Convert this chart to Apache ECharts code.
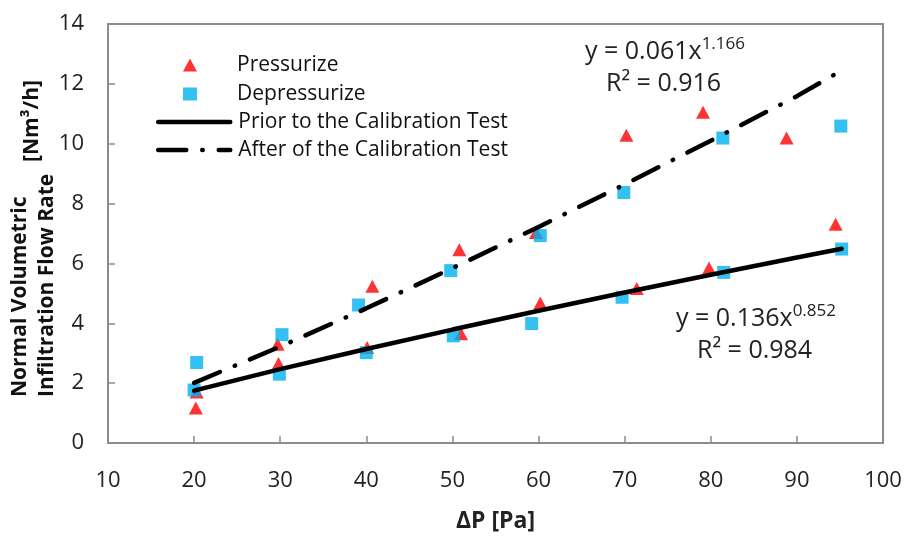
<!DOCTYPE html>
<html>
<head>
<meta charset="utf-8">
<script src="https://cdn.jsdelivr.net/npm/echarts@6/dist/echarts.min.js"></script>
<style>html,body{margin:0;padding:0;background:#fff}#c{width:909px;height:538px}</style>
</head>
<body>
<div id="c"></div>
<script>
// ---- data ----
const xTicks = [10, 20, 30, 40, 50, 60, 70, 80, 90, 100];
const yTicks = [0, 2, 4, 6, 8, 10, 12, 14];

const pressX = [20.2, 20.3, 29.7, 29.8, 40.1, 40.7, 51.0, 50.8, 59.7, 60.2, 70.2, 71.4, 79.1, 79.8, 88.8, 94.5];
const pressY = [1.17, 1.70, 3.30, 2.66, 3.19, 5.24, 3.65, 6.46, 7.03, 4.68, 10.28, 5.16, 11.05, 5.85, 10.19, 7.31];

const depX = [20.0, 20.3, 29.9, 30.2, 39.1, 40.0, 49.8, 50.1, 59.2, 60.2, 69.9, 69.7, 81.4, 81.5, 95.1, 95.2];
const depY = [1.77, 2.69, 2.30, 3.62, 4.61, 3.02, 5.76, 3.58, 3.99, 6.93, 8.37, 4.87, 10.19, 5.70, 10.59, 6.48];

const priorX = [20, 30, 40, 50, 60, 70, 80, 90, 95.2];
const priorY = [1.75, 2.47, 3.14, 3.79, 4.42, 5.03, 5.62, 6.20, 6.49];

const afterX = [20, 30, 40, 50, 60, 70, 80, 90, 94.3];
const afterY = [2.01, 3.22, 4.50, 5.84, 7.22, 8.64, 10.10, 11.59, 12.30];

const names = ['Pressurize', 'Depressurize', 'Prior to the Calibration Test', 'After of the Calibration Test'];
const eqAfter = ['y = 0.061x', '1.166', 'R² = 0.916'];
const eqPrior = ['y = 0.136x', '0.852', 'R² = 0.984'];

const zip = (a, b) => a.map((v, i) => [v, b[i]]);
const FONT = '"Open Sans", "Noto Sans", sans-serif';

const chart = echarts.init(document.getElementById('c'), null, {renderer: 'canvas'});
chart.setOption({
  animation: false,
  backgroundColor: '#fff',
  grid: {left: 108, right: 26, top: 24, bottom: 92, show: true, borderColor: '#8c8c8c', borderWidth: 2, backgroundColor: 'transparent'},
  xAxis: {
    type: 'value', min: 10, max: 100, interval: 10,
    axisLine: {show: true, lineStyle: {color: '#8c8c8c', width: 2}},
    axisTick: {show: true, inside: true, length: 7, lineStyle: {color: '#8c8c8c', width: 1.5}},
    splitLine: {show: false},
    axisLabel: {margin: 27, fontSize: 22, color: '#222', fontFamily: FONT},
    name: 'ΔP [Pa]', nameLocation: 'middle', nameGap: 67,
    nameTextStyle: {fontSize: 23, fontWeight: 'bold', color: '#222', fontFamily: FONT}
  },
  yAxis: {
    type: 'value', min: 0, max: 14, interval: 2,
    axisLine: {show: true, lineStyle: {color: '#8c8c8c', width: 2}},
    axisTick: {show: true, inside: true, length: 7, lineStyle: {color: '#8c8c8c', width: 1.5}},
    splitLine: {show: false},
    axisLabel: {margin: 24, fontSize: 22, color: '#222', fontFamily: FONT}
  },
  legend: [
    {
      data: [names[0], names[1]], orient: 'vertical', left: 183, top: 52, padding: 0,
      itemWidth: 14, itemHeight: 13, itemGap: 3, selectedMode: false,
      textStyle: {fontSize: 21, color: '#111', fontFamily: FONT, padding: [0, 0, 0, 35], lineHeight: 26}
    },
    {
      data: [names[2], names[3]], orient: 'vertical', left: 156, top: 109, padding: 0,
      itemWidth: 72, itemHeight: 14, itemGap: 2, selectedMode: false,
      itemStyle: {color: 'transparent', borderWidth: 0},
      lineStyle: {width: 4.5, color: '#000', cap: 'round'},
      textStyle: {fontSize: 21, color: '#111', fontFamily: FONT, padding: [0, 0, 0, 3], lineHeight: 26}
    }
  ],
  series: [
    {
      name: names[0], type: 'scatter', data: zip(pressX, pressY),
      symbol: 'triangle', symbolSize: [14, 13], itemStyle: {color: '#ff0000'}, z: 2
    },
    {
      name: names[1], type: 'scatter', data: zip(depX, depY),
      symbol: 'rect', symbolSize: 13, itemStyle: {color: '#00b0f0'}, z: 3
    },
    {
      name: names[2], type: 'line', data: zip(priorX, priorY), showSymbol: false, symbol: 'none',
      lineStyle: {color: '#000', width: 4.5, cap: 'round'}, itemStyle: {color: '#000'}, z: 5
    },
    {
      name: names[3], type: 'line', data: zip(afterX, afterY), showSymbol: false, symbol: 'none',
      lineStyle: {color: '#000', width: 4.5, cap: 'round', type: [28, 16, 0.5, 16]}, itemStyle: {color: '#000'}, z: 5
    }
  ],
  graphic: [
    {
      type: 'text', left: 585, top: 36, z: 10,
      style: {
        text: '{a|' + eqAfter[0] + '}{s|' + eqAfter[1] + '}',
        rich: {a: {fontSize: 25, fontFamily: FONT, fill: '#222', lineHeight: 32}, s: {fontSize: 17, fontFamily: FONT, fill: '#222', lineHeight: 32, verticalAlign: 'top', padding: [0,0,11,0]}}
      }
    },
    {
      type: 'text', left: 606, top: 71, z: 10,
      style: {text: eqAfter[2], font: '25px ' + FONT, fill: '#222'}
    },
    {
      type: 'text', left: 676, top: 303, z: 10,
      style: {
        text: '{a|' + eqPrior[0] + '}{s|' + eqPrior[1] + '}',
        rich: {a: {fontSize: 25, fontFamily: FONT, fill: '#222', lineHeight: 32}, s: {fontSize: 17, fontFamily: FONT, fill: '#222', lineHeight: 32, verticalAlign: 'top', padding: [0,0,11,0]}}
      }
    },
    {
      type: 'text', left: 697, top: 338, z: 10,
      style: {text: eqPrior[2], font: '25px ' + FONT, fill: '#222'}
    },
    {
      type: 'text', x: 20, y: 397, rotation: Math.PI / 2, z: 10,
      style: {text: 'Normal Volumetric', font: 'bold 21px ' + FONT, fill: '#111', align: 'left', verticalAlign: 'middle', textAlign: 'left', textVerticalAlign: 'middle'}
    },
    {
      type: 'text', x: 47, y: 397, rotation: Math.PI / 2, z: 10,
      style: {text: 'Infiltration Flow Rate', font: 'bold 21px ' + FONT, fill: '#111', align: 'left', verticalAlign: 'middle', textAlign: 'left', textVerticalAlign: 'middle'}
    },
    {
      type: 'text', x: 32, y: 121, rotation: Math.PI / 2, z: 10,
      style: {text: '[Nm³/h]', font: 'bold 21px ' + FONT, fill: '#111', align: 'center', verticalAlign: 'middle', textAlign: 'center', textVerticalAlign: 'middle'}
    }
  ]
});
</script>
</body>
</html>
